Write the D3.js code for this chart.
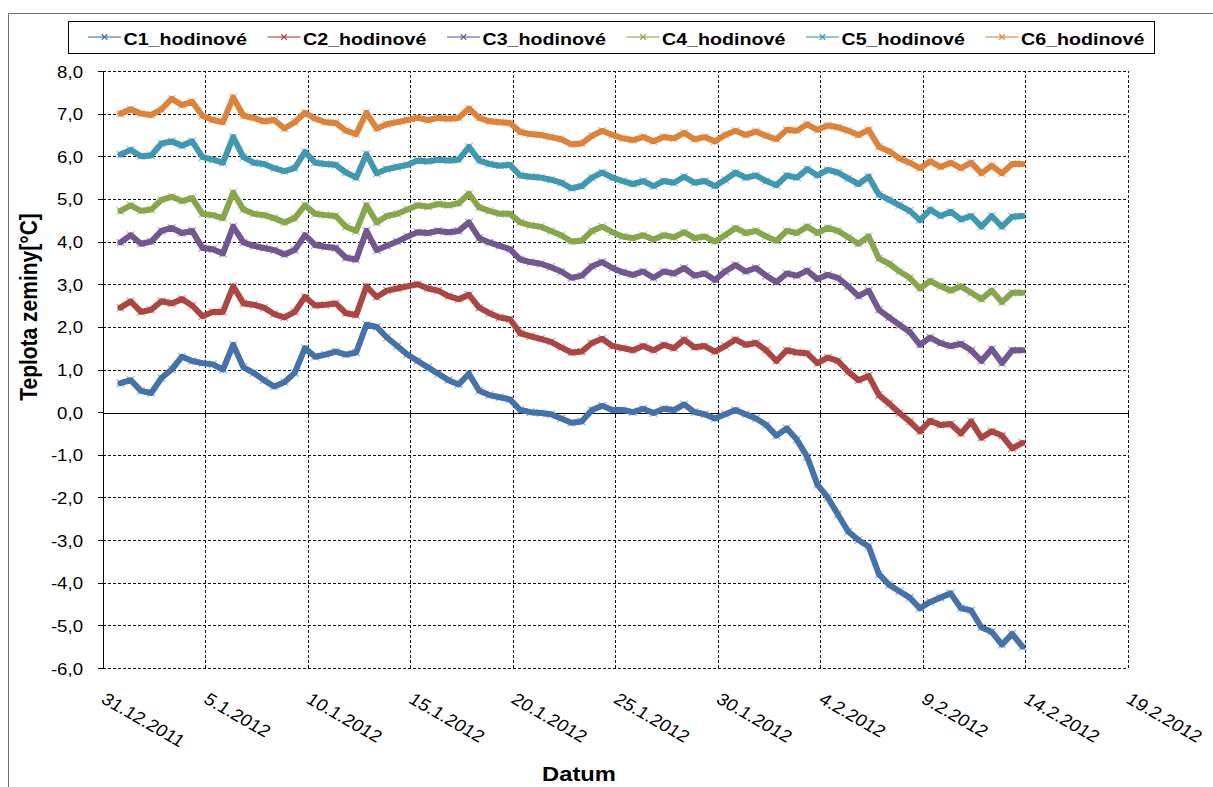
<!DOCTYPE html>
<html>
<head>
<meta charset="utf-8">
<script src="https://cdn.jsdelivr.net/npm/d3@7"></script>
<style>
  html, body { margin: 0; padding: 0; background: #fff; }
  svg { display: block; }
  text { font-family: "Liberation Sans", Arial, sans-serif; fill: #000; }
</style>
</head>
<body>
<svg id="chart" width="1213" height="787"></svg>
<script>
// Soil temperature at six depths, 12-hourly readings
const seriesNames = ["C1_hodinové", "C2_hodinové", "C3_hodinové", "C4_hodinové", "C5_hodinové", "C6_hodinové"];
const seriesColors = ["#4572A7", "#AA4643", "#71588F", "#89A54E", "#4198AF", "#DB843D"];

const firstReading = "31.12.2011 21:00";
const readingStepHours = 12;

const c1 = [0.68,0.75,0.5,0.45,0.8,1.0,1.3,1.2,1.15,1.12,
  1.0,1.58,1.05,0.92,0.75,0.6,0.7,0.92,1.5,1.3,
  1.35,1.42,1.35,1.4,2.05,2.0,1.75,1.55,1.35,1.2,
  1.05,0.9,0.75,0.65,0.9,0.5,0.4,0.35,0.3,0.05,
  0.0,-0.02,-0.05,-0.15,-0.25,-0.22,0.05,0.15,0.05,0.05,
  0.0,0.08,-0.02,0.08,0.05,0.18,0.0,-0.05,-0.15,-0.05,
  0.05,-0.05,-0.15,-0.3,-0.55,-0.38,-0.65,-1.05,-1.7,-2.0,
  -2.4,-2.8,-3.0,-3.15,-3.8,-4.05,-4.2,-4.35,-4.6,-4.45,
  -4.35,-4.25,-4.6,-4.65,-5.05,-5.15,-5.45,-5.2,-5.5];

const c2 = [2.45,2.6,2.35,2.4,2.6,2.55,2.65,2.5,2.25,2.35,
  2.35,2.95,2.55,2.52,2.45,2.3,2.22,2.35,2.7,2.5,
  2.52,2.55,2.32,2.28,2.95,2.7,2.85,2.9,2.95,3.0,
  2.9,2.85,2.72,2.65,2.75,2.45,2.32,2.22,2.18,1.85,
  1.78,1.72,1.65,1.52,1.4,1.42,1.62,1.72,1.55,1.5,
  1.45,1.55,1.45,1.58,1.5,1.7,1.52,1.55,1.42,1.55,
  1.7,1.58,1.62,1.45,1.2,1.45,1.4,1.38,1.15,1.28,
  1.2,0.95,0.75,0.85,0.4,0.2,-0.02,-0.22,-0.45,-0.2,
  -0.3,-0.28,-0.5,-0.22,-0.6,-0.45,-0.55,-0.85,-0.72];

const c3 = [3.98,4.15,3.95,4.0,4.25,4.32,4.2,4.25,3.85,3.82,
  3.72,4.35,3.98,3.9,3.85,3.8,3.7,3.8,4.15,3.92,
  3.88,3.85,3.62,3.58,4.25,3.8,3.9,4.0,4.12,4.22,
  4.2,4.25,4.22,4.25,4.45,4.08,3.98,3.9,3.82,3.58,
  3.52,3.48,3.4,3.3,3.15,3.2,3.42,3.52,3.38,3.28,
  3.22,3.3,3.15,3.3,3.25,3.38,3.2,3.25,3.1,3.3,
  3.45,3.3,3.38,3.2,3.05,3.25,3.2,3.32,3.12,3.22,
  3.15,2.95,2.72,2.85,2.4,2.22,2.05,1.88,1.58,1.75,
  1.62,1.55,1.6,1.45,1.2,1.48,1.15,1.45,1.45];

const c4 = [4.72,4.85,4.72,4.75,4.98,5.05,4.95,5.02,4.65,4.62,
  4.55,5.15,4.75,4.65,4.62,4.55,4.45,4.55,4.85,4.65,
  4.62,4.6,4.35,4.25,4.85,4.45,4.6,4.65,4.75,4.85,
  4.82,4.88,4.85,4.9,5.12,4.8,4.72,4.65,4.65,4.45,
  4.38,4.35,4.25,4.15,4.0,4.02,4.25,4.35,4.22,4.12,
  4.08,4.15,4.05,4.15,4.1,4.22,4.08,4.12,4.0,4.15,
  4.32,4.2,4.25,4.12,4.02,4.25,4.2,4.35,4.2,4.32,
  4.25,4.1,3.95,4.12,3.6,3.48,3.3,3.15,2.9,3.08,
  2.95,2.85,2.95,2.8,2.65,2.85,2.58,2.8,2.8];

const c5 = [6.04,6.15,6.0,6.02,6.3,6.35,6.25,6.35,5.98,5.92,
  5.85,6.45,5.98,5.85,5.82,5.72,5.65,5.72,6.1,5.85,
  5.82,5.8,5.62,5.5,6.05,5.6,5.7,5.75,5.8,5.9,
  5.88,5.92,5.9,5.92,6.22,5.9,5.82,5.78,5.8,5.55,
  5.52,5.5,5.45,5.38,5.25,5.3,5.5,5.62,5.5,5.42,
  5.35,5.42,5.3,5.42,5.38,5.52,5.38,5.42,5.3,5.45,
  5.62,5.5,5.55,5.42,5.32,5.55,5.5,5.7,5.55,5.68,
  5.62,5.48,5.35,5.52,5.1,4.98,4.85,4.72,4.5,4.75,
  4.6,4.7,4.52,4.6,4.35,4.6,4.35,4.58,4.6];

const c6 = [7.0,7.1,7.0,6.97,7.1,7.35,7.2,7.28,6.95,6.85,
  6.8,7.38,6.95,6.9,6.82,6.85,6.65,6.8,7.02,6.88,
  6.8,6.78,6.6,6.52,7.02,6.65,6.75,6.8,6.85,6.9,
  6.85,6.9,6.88,6.9,7.12,6.9,6.82,6.8,6.78,6.57,
  6.52,6.5,6.45,6.4,6.28,6.3,6.48,6.6,6.5,6.42,
  6.38,6.45,6.35,6.45,6.42,6.55,6.4,6.45,6.35,6.5,
  6.6,6.5,6.58,6.48,6.4,6.62,6.6,6.75,6.62,6.72,
  6.68,6.6,6.5,6.62,6.22,6.12,5.95,5.85,5.72,5.88,
  5.75,5.85,5.72,5.85,5.6,5.78,5.6,5.82,5.82];

const seriesValues = [c1, c2, c3, c4, c5, c6];

const xTickLabels = ["31.12.2011", "5.1.2012", "10.1.2012", "15.1.2012", "20.1.2012", "25.1.2012",
  "30.1.2012", "4.2.2012", "9.2.2012", "14.2.2012", "19.2.2012"];
const yTickValues = [-6, -5, -4, -3, -2, -1, 0, 1, 2, 3, 4, 5, 6, 7, 8];

const yTitle = "Teplota zeminy[°C]";
const xTitle = "Datum";

// ---- layout ----
const W = 1213, H = 787;
const plot = { left: 102.5, right: 1127.5, top: 71, bottom: 668 };
const sx = 1.13; // horizontal text widening

const parseDay = d3.timeParse("%d.%m.%Y");
const parseStamp = d3.timeParse("%d.%m.%Y %H:%M");
const xTickDates = xTickLabels.map(parseDay);
const t0 = parseStamp(firstReading);
const readingTimes = c1.map((_, i) => d3.timeHour.offset(t0, i * readingStepHours));

const x = d3.scaleTime()
  .domain([xTickDates[0], xTickDates[xTickDates.length - 1]])
  .range([plot.left, plot.right]);
const y = d3.scaleLinear().domain([-6, 8]).range([plot.bottom, plot.top]);

const svg = d3.select("#chart");
svg.append("rect").attr("width", W).attr("height", H).attr("fill", "#fff");

// chart frame (top and left edges visible)
svg.append("path")
  .attr("d", `M8.5,${H} V13.5 H${W}`)
  .attr("fill", "none").attr("stroke", "#6e6e6e").attr("stroke-width", 1);

const fmtNum = v => d3.format(".1f")(v).replace(".", ",").replace("−", "-");
const crisp = v => Math.round(v - 0.5) + 0.5;

// horizontal gridlines
const gridY = svg.append("g").attr("transform", `translate(${plot.left},0)`)
  .call(d3.axisLeft(y).tickValues(yTickValues.filter(v => v !== 0))
    .tickSize(-(plot.right - plot.left)).tickFormat(""));
gridY.select(".domain").remove();
gridY.selectAll(".tick line")
  .attr("stroke", "#111").attr("stroke-dasharray", "3,2").attr("shape-rendering", "crispEdges");

// vertical gridlines
const gridX = svg.append("g").attr("transform", `translate(0,${plot.bottom})`)
  .call(d3.axisBottom(x).tickValues(xTickDates.slice(1))
    .tickSize(-(plot.bottom - plot.top)).tickFormat(""));
gridX.select(".domain").remove();
gridX.selectAll(".tick line")
  .attr("stroke", "#111").attr("stroke-dasharray", "3,2").attr("shape-rendering", "crispEdges");

// zero line with small ticks
const zeroAxis = svg.append("g").attr("transform", `translate(0,${crisp(y(0))})`)
  .call(d3.axisBottom(x).tickValues(xTickDates).tickSizeInner(4).tickSizeOuter(0).tickFormat(""));
zeroAxis.select(".domain").attr("stroke", "#000").attr("shape-rendering", "crispEdges");
zeroAxis.selectAll(".tick line").attr("stroke", "#000").attr("shape-rendering", "crispEdges");

// value axis
const yAxis = svg.append("g").attr("transform", `translate(${plot.left},0)`)
  .call(d3.axisLeft(y).tickValues(yTickValues).tickSizeInner(5).tickSizeOuter(0).tickFormat(fmtNum));
yAxis.select(".domain").attr("stroke", "#000").attr("shape-rendering", "crispEdges");
yAxis.selectAll(".tick line").attr("stroke", "#000").attr("shape-rendering", "crispEdges");
yAxis.selectAll(".tick text")
  .attr("x", null).attr("dy", null)
  .attr("transform", `translate(-19.5,6) scale(${sx},1)`)
  .attr("text-anchor", "end")
  .style("font-size", "16.5px")
  .style("font-family", '"Liberation Sans", Arial, sans-serif')
  .attr("fill", "#000");

// date labels below the plot
const xAxis = svg.append("g").attr("transform", `translate(0,${plot.bottom})`)
  .call(d3.axisBottom(x).tickValues(xTickDates).tickSize(0).tickFormat((d, i) => xTickLabels[i]));
xAxis.select(".domain").remove();
xAxis.selectAll(".tick text")
  .attr("y", null).attr("dy", null)
  .attr("text-anchor", "start")
  .attr("transform", `translate(-3,34) scale(${sx},1) rotate(33)`)
  .style("font-size", "17px")
  .style("font-family", '"Liberation Sans", Arial, sans-serif')
  .attr("fill", "#000");

// series
const line = d3.line().x(d => x(d.t)).y(d => y(d.v));
const marker = d3.symbol().type(d3.symbolX).size(40);

seriesValues.forEach((vals, k) => {
  const pts = vals.map((v, i) => ({ t: readingTimes[i], v }));
  const g = svg.append("g");
  g.append("path")
    .attr("d", line(pts))
    .attr("fill", "none")
    .attr("stroke", seriesColors[k])
    .attr("stroke-width", 6)
    .attr("stroke-linejoin", "round")
    .attr("stroke-linecap", "round");
  g.selectAll("path.m").data(pts).join("path")
    .attr("class", "m")
    .attr("d", marker)
    .attr("transform", d => `translate(${x(d.t)},${y(d.v)})`)
    .attr("fill", "none")
    .attr("stroke", seriesColors[k])
    .attr("stroke-opacity", 0.5)
    .attr("stroke-width", 1.3);
});

// legend
const legend = svg.append("g");
legend.append("rect")
  .attr("x", 68.5).attr("y", 21.5).attr("width", 1086).attr("height", 32)
  .attr("fill", "#fff").attr("stroke", "#000");
seriesNames.forEach((name, k) => {
  const lx = 88 + k * 179.5;
  legend.append("line")
    .attr("x1", lx).attr("x2", lx + 33).attr("y1", 37).attr("y2", 37)
    .attr("stroke", seriesColors[k]).attr("stroke-width", 1.5).attr("stroke-opacity", 0.75);
  legend.append("path")
    .attr("d", d3.symbol().type(d3.symbolX).size(22)())
    .attr("transform", `translate(${lx + 16.5},37)`)
    .attr("fill", "none").attr("stroke", seriesColors[k]).attr("stroke-width", 1.2);
  legend.append("text")
    .attr("transform", `translate(${lx + 35.5},44.5) scale(${sx},1)`)
    .style("font-size", "17.4px").style("font-weight", "bold")
    .text(name);
});

// axis titles
svg.append("text")
  .attr("transform", `translate(37,307) scale(${sx},1) rotate(-90)`)
  .attr("text-anchor", "middle")
  .style("font-size", "21px").style("font-weight", "bold")
  .text(yTitle);

svg.append("text")
  .attr("transform", `translate(579,781) scale(${sx},1)`)
  .attr("text-anchor", "middle")
  .style("font-size", "21px").style("font-weight", "bold")
  .text(xTitle);
</script>
</body>
</html>
